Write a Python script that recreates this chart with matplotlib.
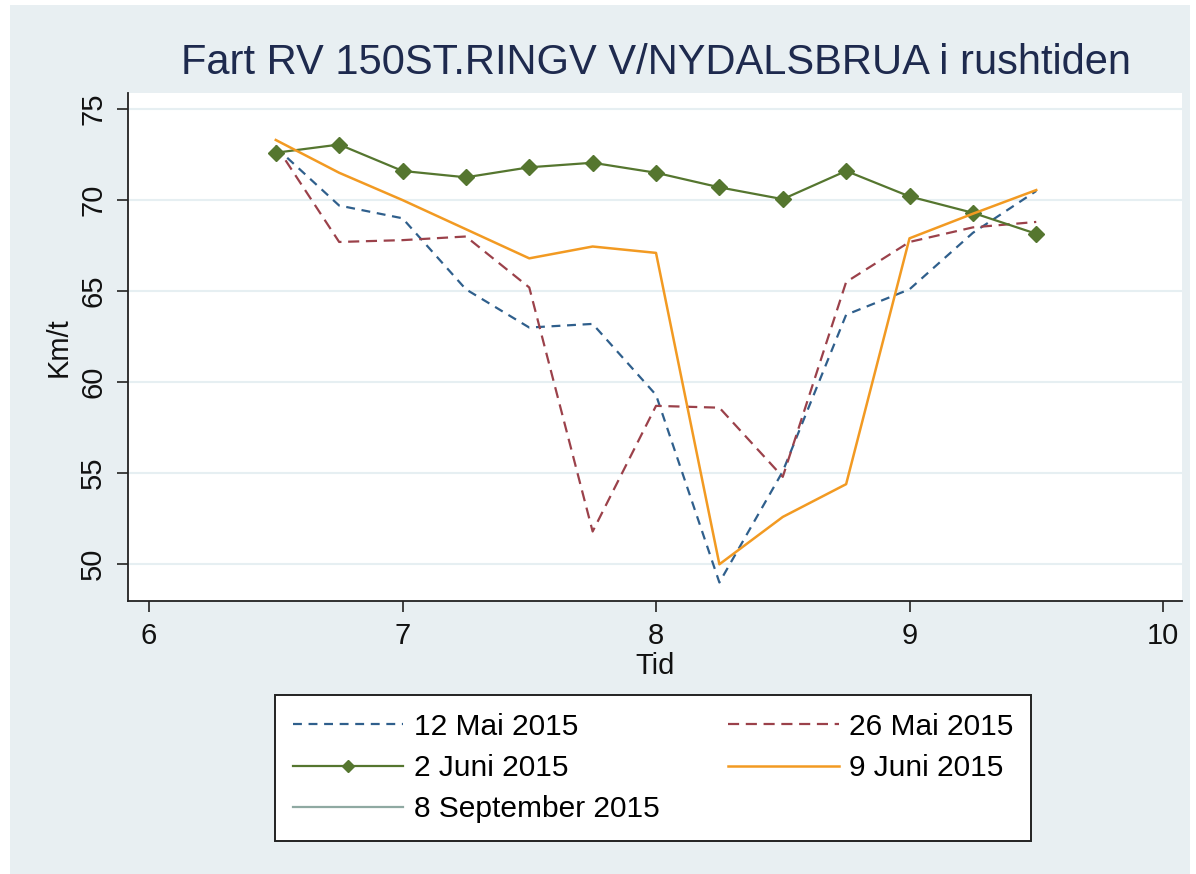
# Speed on RV 150 (Ring 3) at Nydalsbrua during morning rush, several dates
import matplotlib
matplotlib.use("Agg")
import matplotlib.pyplot as plt
from matplotlib.patches import Rectangle

plt.rcParams['font.family'] = ['Liberation Sans', 'DejaVu Sans']

# time of day (hours)
tid = [6.5, 6.75, 7.0, 7.25, 7.5, 7.75, 8.0, 8.25, 8.5, 8.75, 9.0, 9.25, 9.5]

# km/t per date
mai12 = [72.9, 69.7, 69.0, 65.1, 63.0, 63.2, 59.3, 49.0, 55.1, 63.7, 65.1, 68.2, 70.5]
mai26 = [73.0, 67.7, 67.8, 68.0, 65.2, 51.8, 58.7, 58.6, 54.8, 65.5, 67.7, 68.5, 68.8]
juni2 = [72.6, 73.05, 71.6, 71.25, 71.8, 72.05, 71.5, 70.7, 70.05, 71.6, 70.2, 69.3, 68.15]
juni9 = [73.3, 71.5, 70.0, 68.4, 66.8, 67.45, 67.1, 50.0, 52.6, 54.4, 67.9, 69.25, 70.55]
# 8 September: no visible points in the chart, only in the legend
sep8_tid = []
sep8 = []

labels = ['12 Mai 2015', '26 Mai 2015', '2 Juni 2015', '9 Juni 2015', '8 September 2015']
xticks = [6, 7, 8, 9, 10]
yticks = [50, 55, 60, 65, 70, 75]

W, H = 1196, 874
fig = plt.figure(figsize=(W / 100, H / 100), dpi=100, facecolor='white')
bg = Rectangle((10 / W, 0), 1180 / W, 1 - 5 / H, transform=fig.transFigure,
               facecolor='#e8eff2', edgecolor='none', zorder=-10)
fig.patches.append(bg)

ax = fig.add_axes([128 / W, 1 - 600.7 / H, (1182 - 128) / W, (600.7 - 93) / H])
ax.set_facecolor('white')

c_blue = '#2f5f8c'
c_red = '#9b414a'
c_green = '#55762f'
c_orange = '#f29a22'
c_teal = '#8fa9a2'

l1, = ax.plot(tid, mai12, color=c_blue, lw=1.6, dashes=(4, 3))
l2, = ax.plot(tid, mai26, color=c_red, lw=1.6, dashes=(5, 3))
l3, = ax.plot(tid, juni2, color=c_green, lw=1.6, marker='D', ms=8, mec=c_green)
l4, = ax.plot(tid, juni9, color=c_orange, lw=1.8)
l5, = ax.plot(sep8_tid, sep8, color=c_teal, lw=1.6)

ax.set_xlim(5.917, 10.075)
ax.set_ylim(48.0, 75.88)
ax.set_xticks(xticks)
ax.set_yticks(yticks)
ax.grid(axis='y', color='#e6eff2', lw=1.5)
ax.set_axisbelow(True)

for s in ['top', 'right']:
    ax.spines[s].set_visible(False)
for s in ['left', 'bottom']:
    ax.spines[s].set_linewidth(1.3)
    ax.spines[s].set_color('#222222')

ax.tick_params(axis='both', length=8, width=1.2, color='#222222', labelsize=21, labelcolor='#111111')
ax.tick_params(axis='x', pad=7)
ax.tick_params(axis='y', pad=7)
for lab in ax.get_yticklabels():
    lab.set_rotation(90)
    lab.set_va('center')

ax.set_xlabel('Tid', fontsize=21, color='#111111', labelpad=2)
ax.set_ylabel('Km/t', fontsize=21, color='#111111', labelpad=5)

fig.text(656 / W, 1 - 63 / H, 'Fart RV 150ST.RINGV V/NYDALSBRUA i rushtiden',
         ha='center', va='center', fontsize=30, color='#1e2a4e')

# legend filled column-wise -> reorder to get Stata's row order
handles = [l1, l3, l5, l2, l4]
hl = [labels[0], labels[2], labels[4], labels[1], labels[3]]
leg = fig.legend(handles, hl, loc='center', bbox_to_anchor=(653 / W, 1 - 768 / H),
                 ncol=2, fontsize=21.5, handlelength=3.7, handletextpad=0.35,
                 columnspacing=2.3, labelspacing=0.45, borderpad=0.6,
                 fancybox=False, framealpha=1, edgecolor='#222222', markerscale=0.75)
leg.get_frame().set_linewidth(1.4)

fig.savefig('out.png', dpi=100, facecolor=fig.get_facecolor())
